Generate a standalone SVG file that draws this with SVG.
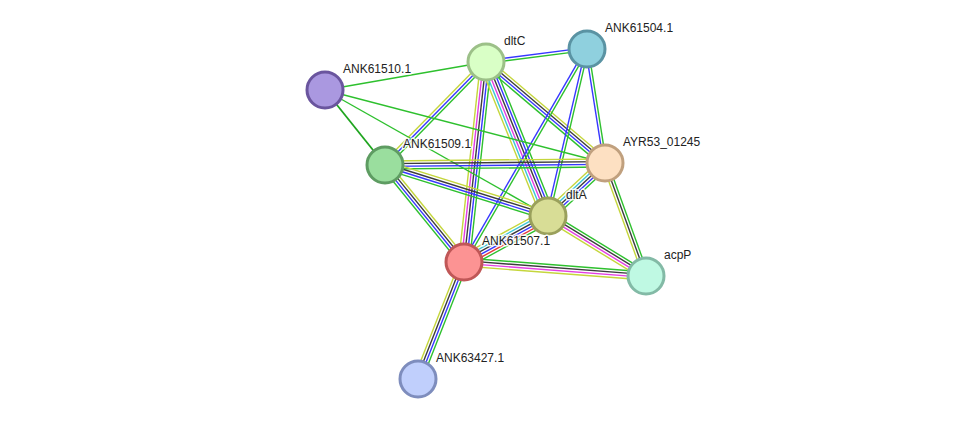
<svg xmlns="http://www.w3.org/2000/svg" width="975" height="425" viewBox="0 0 975 425">
<style>
line{stroke-width:1.4;fill:none}
.g{stroke:#2ec02e}.b{stroke:#3737ff}.y{stroke:#c5d63c}.k{stroke:#3c3c3c}.m{stroke:#e33ee3}.c{stroke:#3cc6d6}.r{stroke:#e33b3b}
.gt{stroke:#1fa51f;stroke-width:1.8}
circle{stroke-width:3}
text{font-family:"Liberation Sans",Arial,sans-serif;font-size:12px;fill:#222;stroke:#fff;stroke-width:3;stroke-opacity:0.85;paint-order:stroke;stroke-linejoin:round}
</style>
<rect width="975" height="425" fill="#fff"/>
<g id="connectors">
<!-- dltC - ANK61504.1 -->
<g transform="translate(486 62) rotate(-7.33)"><line class="b" x1="0" y1="-1.35" x2="101.8" y2="-1.35"/><line class="g" x1="0" y1="1.35" x2="101.8" y2="1.35"/></g>
<!-- ANK61510.1 - dltC -->
<g transform="translate(325 90) rotate(-9.87)"><line class="g" x1="0" y1="0" x2="163.4" y2="0"/></g>
<!-- ANK61509.1 - dltC -->
<g transform="translate(385 165) rotate(-45.56)"><line class="y" x1="0" y1="-2.7" x2="144.3" y2="-2.7"/><line class="b" x1="0" y1="0" x2="144.3" y2="0"/><line class="g" x1="0" y1="2.7" x2="144.3" y2="2.7"/></g>
<!-- ANK61507.1 - dltC -->
<g transform="translate(464 262) rotate(-83.72)"><line class="y" x1="0" y1="-5.4" x2="201.2" y2="-5.4"/><line class="m" x1="0" y1="-2.7" x2="201.2" y2="-2.7"/><line class="k" x1="0" y1="0" x2="201.2" y2="0"/><line class="b" x1="0" y1="2.7" x2="201.2" y2="2.7"/><line class="g" x1="0" y1="5.4" x2="201.2" y2="5.4"/></g>
<!-- dltC - dltA -->
<g transform="translate(486 62) rotate(68.07)"><line class="g" x1="0" y1="-6.75" x2="166" y2="-6.75"/><line class="b" x1="0" y1="-4.05" x2="166" y2="-4.05"/><line class="k" x1="0" y1="-1.35" x2="166" y2="-1.35"/><line class="m" x1="0" y1="1.35" x2="166" y2="1.35"/><line class="c" x1="0" y1="4.05" x2="166" y2="4.05"/><line class="y" x1="0" y1="6.75" x2="166" y2="6.75"/></g>
<!-- dltC - AYR53_01245 -->
<g transform="translate(486 62) rotate(40.32)"><line class="y" x1="0" y1="-4.05" x2="156.1" y2="-4.05"/><line class="k" x1="0" y1="-1.35" x2="156.1" y2="-1.35"/><line class="b" x1="0" y1="1.35" x2="156.1" y2="1.35"/><line class="g" x1="0" y1="4.05" x2="156.1" y2="4.05"/></g>
<!-- ANK61504.1 - AYR53_01245 -->
<g transform="translate(587 49) rotate(81.03)"><line class="g" x1="0" y1="-1.35" x2="115.4" y2="-1.35"/><line class="b" x1="0" y1="1.35" x2="115.4" y2="1.35"/></g>
<!-- ANK61504.1 - dltA -->
<g transform="translate(587 49) rotate(103.15)"><line class="g" x1="0" y1="-1.35" x2="171.5" y2="-1.35"/><line class="b" x1="0" y1="1.35" x2="171.5" y2="1.35"/></g>
<!-- ANK61504.1 - ANK61507.1 -->
<g transform="translate(587 49) rotate(120)"><line class="g" x1="0" y1="-1.35" x2="246" y2="-1.35"/><line class="b" x1="0" y1="1.35" x2="246" y2="1.35"/></g>
<!-- ANK61510.1 - ANK61509.1 -->
<g transform="translate(325 90) rotate(51.34)"><line class="gt" x1="0" y1="0" x2="96" y2="0"/></g>
<!-- ANK61510.1 - AYR53_01245 -->
<g transform="translate(325 90) rotate(14.61)"><line class="g" x1="0" y1="0" x2="289.4" y2="0"/></g>
<!-- ANK61510.1 - dltA -->
<g transform="translate(325 90) rotate(29.47)"><line class="g" x1="0" y1="0" x2="256.1" y2="0"/></g>
<!-- ANK61509.1 - AYR53_01245 -->
<g transform="translate(385 165) rotate(-0.52)"><line class="y" x1="0" y1="-4.05" x2="220" y2="-4.05"/><line class="k" x1="0" y1="-1.35" x2="220" y2="-1.35"/><line class="b" x1="0" y1="1.35" x2="220" y2="1.35"/><line class="g" x1="0" y1="4.05" x2="220" y2="4.05"/></g>
<!-- ANK61509.1 - dltA -->
<g transform="translate(385 165) rotate(17.37)"><line class="y" x1="0" y1="-4.05" x2="170.8" y2="-4.05"/><line class="k" x1="0" y1="-1.35" x2="170.8" y2="-1.35"/><line class="b" x1="0" y1="1.35" x2="170.8" y2="1.35"/><line class="g" x1="0" y1="4.05" x2="170.8" y2="4.05"/></g>
<!-- ANK61509.1 - ANK61507.1 -->
<g transform="translate(385 165) rotate(50.84)"><line class="y" x1="0" y1="-4.05" x2="125.1" y2="-4.05"/><line class="k" x1="0" y1="-1.35" x2="125.1" y2="-1.35"/><line class="b" x1="0" y1="1.35" x2="125.1" y2="1.35"/><line class="g" x1="0" y1="4.05" x2="125.1" y2="4.05"/></g>
<!-- ANK61507.1 - dltA -->
<g transform="translate(464 262) rotate(-28.71)"><line class="y" x1="0" y1="-6.75" x2="95.8" y2="-6.75"/><line class="c" x1="0" y1="-4.05" x2="95.8" y2="-4.05"/><line class="k" x1="0" y1="-1.35" x2="95.8" y2="-1.35"/><line class="b" x1="0" y1="1.35" x2="95.8" y2="1.35"/><line class="r" x1="0" y1="4.05" x2="95.8" y2="4.05"/><line class="g" x1="0" y1="6.75" x2="95.8" y2="6.75"/></g>
<!-- ANK61507.1 - acpP -->
<g transform="translate(464 262) rotate(4.40)"><line class="g" x1="0" y1="-4.05" x2="182.5" y2="-4.05"/><line class="k" x1="0" y1="-1.35" x2="182.5" y2="-1.35"/><line class="m" x1="0" y1="1.35" x2="182.5" y2="1.35"/><line class="y" x1="0" y1="4.05" x2="182.5" y2="4.05"/></g>
<!-- ANK61507.1 - ANK63427.1 -->
<g transform="translate(464 262) rotate(111.46)"><line class="g" x1="0" y1="-4.05" x2="125.7" y2="-4.05"/><line class="b" x1="0" y1="-1.35" x2="125.7" y2="-1.35"/><line class="k" x1="0" y1="1.35" x2="125.7" y2="1.35"/><line class="y" x1="0" y1="4.05" x2="125.7" y2="4.05"/></g>
<!-- dltA - AYR53_01245 -->
<g transform="translate(548 216) rotate(-42.92)"><line class="y" x1="0" y1="-5.4" x2="77.8" y2="-5.4"/><line class="c" x1="0" y1="-2.7" x2="77.8" y2="-2.7"/><line class="k" x1="0" y1="0" x2="77.8" y2="0"/><line class="b" x1="0" y1="2.7" x2="77.8" y2="2.7"/><line class="g" x1="0" y1="5.4" x2="77.8" y2="5.4"/></g>
<!-- dltA - acpP -->
<g transform="translate(548 216) rotate(31.48)"><line class="g" x1="0" y1="-4.05" x2="114.9" y2="-4.05"/><line class="k" x1="0" y1="-1.35" x2="114.9" y2="-1.35"/><line class="m" x1="0" y1="1.35" x2="114.9" y2="1.35"/><line class="y" x1="0" y1="4.05" x2="114.9" y2="4.05"/></g>
<!-- AYR53_01245 - acpP -->
<g transform="translate(605 163) rotate(70.06)"><line class="g" x1="0" y1="-2.7" x2="120.2" y2="-2.7"/><line class="k" x1="0" y1="0" x2="120.2" y2="0"/><line class="y" x1="0" y1="2.7" x2="120.2" y2="2.7"/></g>
</g>
<g id="dltC"><circle cx="486" cy="62" r="18" fill="#d9ffc6" stroke="#9cc088"/><text x="504" y="45">dltC</text></g>
<g id="ANK61504.1"><circle cx="587" cy="49" r="18" fill="#8fd0de" stroke="#5a93a3"/><text x="605" y="32">ANK61504.1</text></g>
<g id="ANK61510.1"><circle cx="325" cy="90" r="18" fill="#aa98e0" stroke="#6a559e"/><text x="343" y="73">ANK61510.1</text></g>
<g id="ANK61509.1"><circle cx="385" cy="165" r="18" fill="#9ade9e" stroke="#5e9c62"/><text x="403" y="148">ANK61509.1</text></g>
<g id="AYR53_01245"><circle cx="605" cy="163" r="18" fill="#fde0c2" stroke="#c0a07e"/><text x="623" y="146">AYR53_01245</text></g>
<g id="dltA"><circle cx="548" cy="216" r="18" fill="#d8dd96" stroke="#9aa05c"/><text x="566" y="199">dltA</text></g>
<g id="ANK61507.1"><circle cx="464" cy="262" r="18" fill="#fc9393" stroke="#c05757"/><text x="482" y="245">ANK61507.1</text></g>
<g id="acpP"><circle cx="646" cy="276" r="18" fill="#bff9e3" stroke="#83baa6"/><text x="664" y="259">acpP</text></g>
<g id="ANK63427.1"><circle cx="418" cy="379" r="18" fill="#c0cffc" stroke="#7e8dbd"/><text x="436" y="362">ANK63427.1</text></g>
</svg>
